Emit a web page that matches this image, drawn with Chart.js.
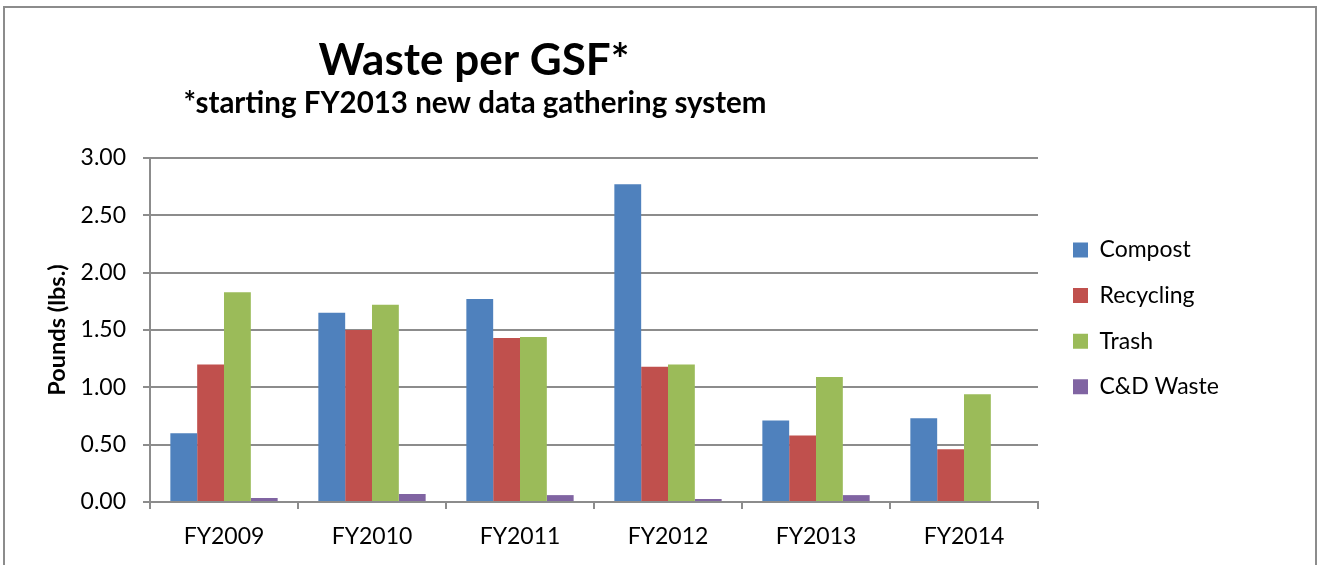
<!DOCTYPE html>
<html><head><meta charset="utf-8">
<script src="https://cdn.jsdelivr.net/npm/chart.js@4/dist/chart.umd.min.js"></script>
<style>
html,body{margin:0;padding:0;background:#fff;overflow:hidden;}
#wrap{position:relative;width:1317px;height:565px;overflow:hidden;}
#frame{position:absolute;left:3px;top:6px;width:1314px;height:600px;border:2px solid #8c8c8c;box-sizing:border-box;pointer-events:none;}
canvas{position:absolute;left:0;top:0;}
</style></head>
<body><div id="wrap"><canvas id="c" width="1317" height="565"></canvas><div id="frame"></div></div>
<script>
const categories = ['FY2009', 'FY2010', 'FY2011', 'FY2012', 'FY2013', 'FY2014'];
const compost   = [0.60, 1.65, 1.77, 2.77, 0.71, 0.73];
const recycling = [1.20, 1.50, 1.43, 1.18, 0.58, 0.46];
const trash     = [1.83, 1.72, 1.44, 1.20, 1.09, 0.94];
const cdWaste   = [0.035, 0.07, 0.06, 0.026, 0.06, 0];
const seriesNames = ['Compost', 'Recycling', 'Trash', 'C&D Waste'];
const yMin = 0, yMax = 3, yStep = 0.5;
const titleText = 'Waste per GSF*';
const subtitleText = '*starting FY2013 new data gathering system';
const yAxisTitle = 'Pounds (lbs.)';

const colors = ['#4F81BD', '#C0504D', '#9BBB59', '#8064A2'];
const axisGray = '#8c8c8c';
const FONT = 'Lato';
Chart.defaults.font.family = FONT;
Chart.defaults.color = '#000';

const titlePlugin = {
  id: 'titles',
  afterDraw(chart) {
    const ctx = chart.ctx;
    ctx.save();
    ctx.fillStyle = '#000';
    ctx.textAlign = 'center';
    ctx.textBaseline = 'alphabetic';
    ctx.font = 'bold 44px ' + FONT;
    ctx.fillText(titleText, 474, 75);
    ctx.font = 'bold 29.5px ' + FONT;
    ctx.fillText(subtitleText, 475, 113);
    ctx.restore();
  }
};

const legendPatch = {
  id: 'legendPatch',
  beforeLayout(chart) {
    const lg = chart.legend;
    if (!lg || lg._patched) return;
    lg._patched = true;
    const of = lg.fit;
    lg.fit = function () { of.call(this); this.width = 279; };
    const od = lg.draw;
    lg.draw = function (...a) {
      const c = this.ctx; c.save(); c.translate(12.4, -11.6); od.apply(this, a); c.restore();
    };
  }
};

const datasets = [compost, recycling, trash, cdWaste].map((d, i) => ({
  label: seriesNames[i],
  data: d,
  backgroundColor: colors[i],
  borderWidth: 0,
  categoryPercentage: 0.725,
  barPercentage: 1.0
}));

new Chart(document.getElementById('c'), {
  type: 'bar',
  data: { labels: categories, datasets },
  plugins: [titlePlugin, legendPatch],
  options: {
    responsive: false,
    animation: false,
    layout: { padding: { top: 158, right: 0, bottom: 0, left: 0 } },
    plugins: {
      title: { display: false },
      tooltip: { enabled: false },
      legend: {
        display: true,
        position: 'right',
        align: 'center',
        fullSize: false,
        labels: {
          boxWidth: 15, boxHeight: 15, padding: 22.6,
          font: { size: 23, family: FONT }, color: '#000'
        }
      }
    },
    scales: {
      x: {
        grid: { offset: true, drawOnChartArea: false, drawTicks: true, tickLength: 7, color: axisGray, lineWidth: 2 },
        border: { display: true, color: axisGray, width: 2 },
        ticks: { font: { size: 23, family: FONT }, padding: 14, color: '#000', maxRotation: 0 },
        afterFit(s) { s.height = 63; }
      },
      y: {
        min: yMin, max: yMax,
        ticks: { stepSize: yStep, font: { size: 23, family: FONT }, padding: 17, color: '#000',
          callback: v => Number(v).toFixed(2) },
        grid: { color: axisGray, lineWidth: 2, tickLength: 7, drawTicks: true },
        border: { display: true, color: axisGray, width: 2 },
        title: { display: true, text: yAxisTitle, font: { size: 23.5, weight: 'bold', family: FONT }, color: '#000',
          padding: { top: 43, bottom: 0 } },
        afterFit(s) { s.width = 150; }
      }
    }
  }
});
</script>
</body></html>
